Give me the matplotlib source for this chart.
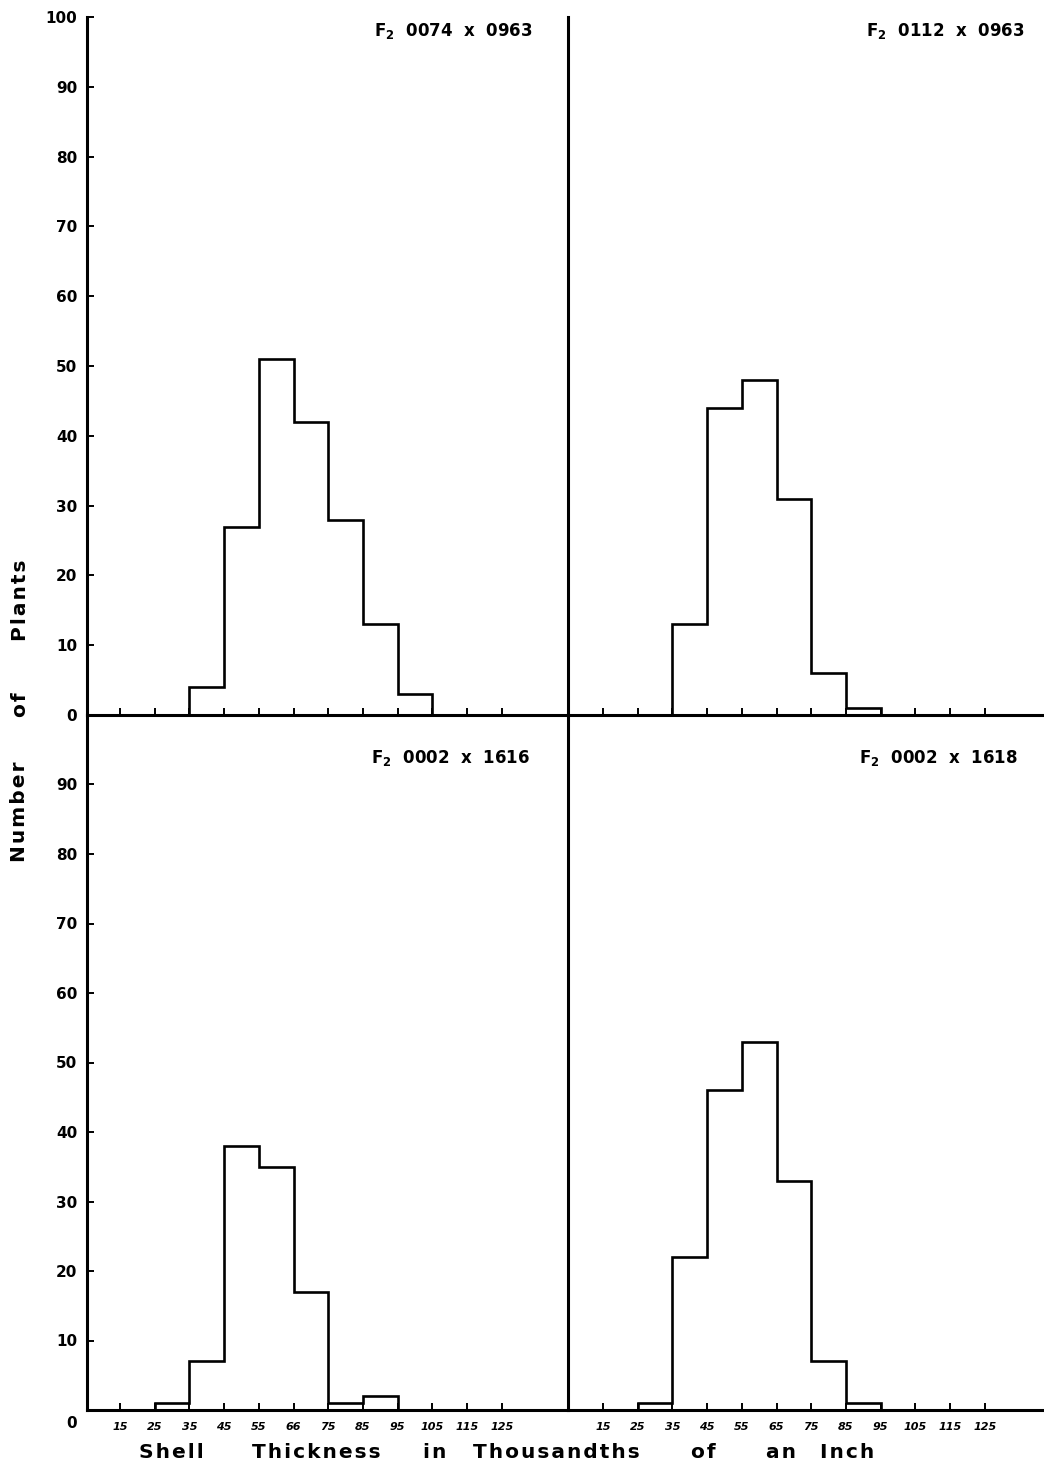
import matplotlib.pyplot as plt
import numpy as np

# data: counts per class (between consecutive tick labels)
labels_left = ['15', '25', '35', '45', '55', '66', '75', '85', '95', '105', '115', '125']
labels_right = ['15', '25', '35', '45', '55', '65', '75', '85', '95', '105', '115', '125']
counts_ul = [0, 0, 4, 27, 51, 42, 28, 13, 3, 0, 0]
counts_ur = [0, 0, 13, 44, 48, 31, 6, 1, 0, 0, 0]
counts_ll = [0, 1, 7, 38, 35, 17, 1, 2, 0, 0, 0]
counts_lr = [0, 1, 22, 46, 53, 33, 7, 1, 0, 0, 0]
titles = ['0074  x  0963', '0112  x  0963', '0002  x  1616', '0002  x  1618']
y_ticks = [0, 10, 20, 30, 40, 50, 60, 70, 80, 90, 100]
axis_words = ['Shell', 'Thickness', 'in', 'Thousandths', 'of', 'an', 'Inch']
ylabel_words = ['Number', 'of', 'Plants']

W, H = 1044, 1466
plt.rcParams['font.family'] = ['DejaVu Sans']
plt.rcParams['mathtext.fontset'] = 'dejavusans'
fig = plt.figure(figsize=(W / 100, H / 100), dpi=100)


def rect(x0, y0, x1, y1):
    return [x0 / W, 1 - y1 / H, (x1 - x0) / W, (y1 - y0) / H]


def spaced(word):
    # open letter spacing like the original lettering
    return '\u200a'.join(word)


edges = np.arange(len(labels_left))
spacing = 34.7
# axes rect, counts, title, side, upper, px of first tick, title anchor px
panels = [
    (rect(87, 17, 568, 715), counts_ul, titles[0], 'L', True, 120, (533, 31)),
    (rect(568, 17, 1044, 715), counts_ur, titles[1], 'R', True, 603, (1025, 31)),
    (rect(87, 715, 568, 1410), counts_ll, titles[2], 'L', False, 120, (530, 758)),
    (rect(568, 715, 1044, 1410), counts_lr, titles[3], 'R', False, 603, (1018, 758)),
]

for pos, counts, title, side, upper, x_first, tpos in panels:
    ax = fig.add_axes(pos)
    ax.set_facecolor('none')
    left_px = pos[0] * W
    right_px = (pos[0] + pos[2]) * W
    ax.set_xlim((left_px - x_first) / spacing, (right_px - x_first) / spacing)
    ax.set_ylim(0, 100)
    ax.stairs(counts, edges, baseline=0, color='black', linewidth=1.9)
    for s in ['top', 'right']:
        ax.spines[s].set_visible(False)
    ax.spines['left'].set_linewidth(2.2)
    ax.spines['bottom'].set_linewidth(2.2)
    ax.tick_params(direction='in', length=5, width=1.4, colors='black')
    ax.set_xticks(edges)
    if upper:
        ax.set_xticklabels([])
    else:
        ax.set_xticklabels(labels_left if side == 'L' else labels_right,
                           fontsize=8, fontweight='bold', fontstyle='italic')
        ax.tick_params(axis='x', pad=9)
    if side == 'L':
        ax.set_yticks(y_ticks)
        if upper:
            ax.set_yticklabels([str(v) for v in y_ticks])
        else:
            ax.set_yticklabels([''] + [str(v) for v in y_ticks[1:-1]] + [''])
        ax.tick_params(axis='y', labelsize=11, pad=7)
        for t in ax.get_yticklabels():
            t.set_fontweight('bold')
    else:
        ax.set_yticks([])
    fig.text(tpos[0] / W, 1 - tpos[1] / H, r'$\mathbf{F_2}$  ' + title,
             ha='right', va='center', fontsize=12, fontweight='bold')

# lower corner zero label
fig.text(72 / W, 1 - 1424 / H, '0', ha='center', va='center',
         fontsize=11, fontweight='bold')

# x axis label, widely spaced words
word_x = [171, 316, 435, 556, 703, 781, 847]
for w, x in zip(axis_words, word_x):
    fig.text(x / W, 1 - 1452 / H, spaced(w), ha='center', va='center',
             fontsize=14.5, fontweight='bold')

# y axis label
word_y = [812, 705, 600]
for w, y in zip(ylabel_words, word_y):
    fig.text(20 / W, 1 - y / H, spaced(w), ha='center', va='center', rotation=90,
             fontsize=14.5, fontweight='bold')

fig.savefig('out.png', dpi=100, facecolor='white')
